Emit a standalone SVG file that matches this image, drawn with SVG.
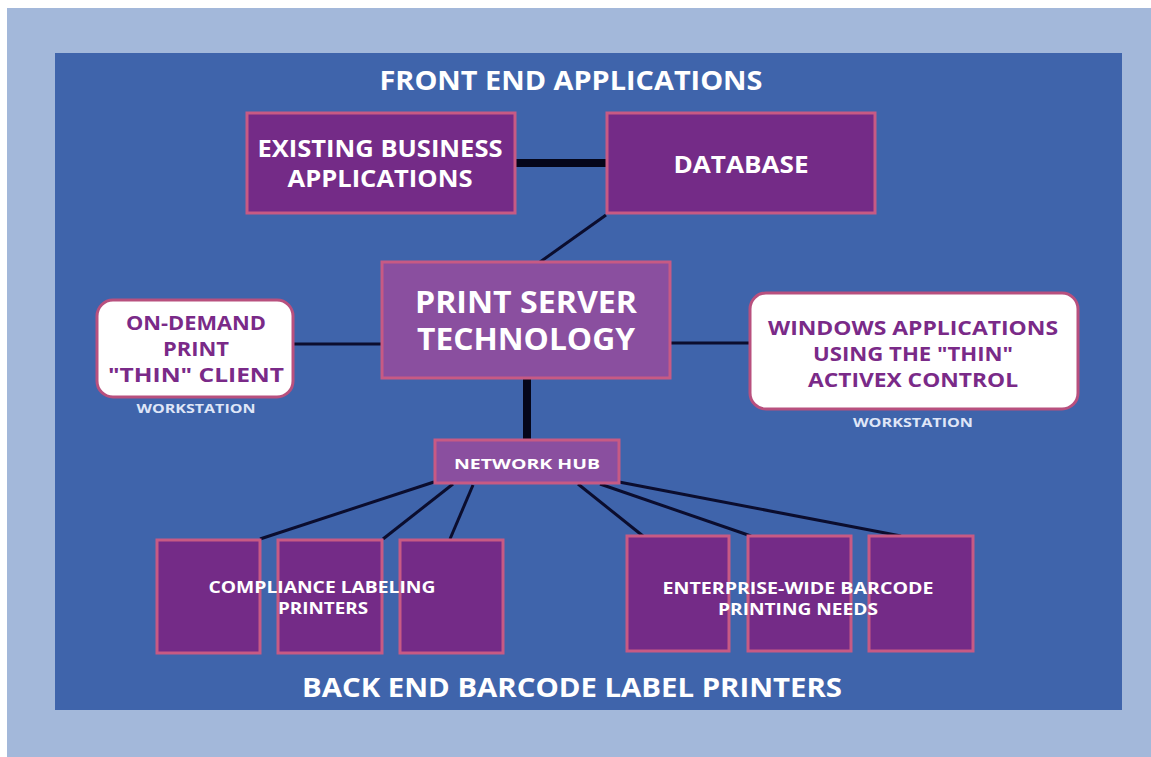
<svg xmlns="http://www.w3.org/2000/svg" width="1151" height="757" viewBox="0 0 1151 757">
<style>
text{font-family:"Open Sans","DejaVu Sans",sans-serif;font-weight:700;text-anchor:middle}
.w{fill:#ffffff}
.p{fill:#7a2a88}
.ws{fill:#dfe6f7;font-size:13px}
.box{fill:#742b87;stroke:#c75a84;stroke-width:3}
.box2{fill:#8a4f9f;stroke:#c75a84;stroke-width:3}
.rbox{fill:#ffffff;stroke:#b8507e;stroke-width:3}
.thin{stroke:#0b0d2e;stroke-width:3;fill:none}
.thick{stroke:#05061a;stroke-width:8;fill:none}
</style>
<rect x="0" y="0" width="1151" height="757" fill="#ffffff"/>
<rect x="7" y="8" width="1144" height="749" fill="#a3b8da"/>
<rect x="55" y="53" width="1067" height="657" fill="#3f64ab"/>
<text class="w" x="571" y="90" font-size="27" textLength="383" lengthAdjust="spacingAndGlyphs">FRONT END APPLICATIONS</text>
<text class="w" x="572" y="697" font-size="27" textLength="540" lengthAdjust="spacingAndGlyphs">BACK END BARCODE LABEL PRINTERS</text>
<g id="connectors">
<line class="thick" x1="515" y1="163" x2="607" y2="163"/>
<line class="thin" x1="606" y1="215" x2="540" y2="262"/>
<line class="thin" x1="293" y1="344" x2="382" y2="344"/>
<line class="thin" x1="670" y1="343" x2="750" y2="343"/>
<line class="thick" x1="527" y1="378" x2="527" y2="440"/>
<line class="thin" x1="434" y1="482" x2="260" y2="539"/>
<line class="thin" x1="453" y1="484" x2="383" y2="539"/>
<line class="thin" x1="473" y1="485" x2="450" y2="539"/>
<line class="thin" x1="578" y1="484" x2="643" y2="536"/>
<line class="thin" x1="600" y1="484" x2="751" y2="536"/>
<line class="thin" x1="619" y1="482" x2="901" y2="536"/>
</g>
<g id="existing">
<rect class="box" x="247" y="113" width="268" height="100"/>
<text class="w" x="380" y="157" font-size="23" textLength="245" lengthAdjust="spacingAndGlyphs">EXISTING BUSINESS</text>
<text class="w" x="380" y="187" font-size="23" textLength="185" lengthAdjust="spacingAndGlyphs">APPLICATIONS</text>
</g>
<g id="database">
<rect class="box" x="607" y="113" width="268" height="100"/>
<text class="w" x="741" y="173" font-size="24" textLength="135" lengthAdjust="spacingAndGlyphs">DATABASE</text>
</g>
<g id="printserver">
<rect class="box2" x="382" y="262" width="288" height="116"/>
<text class="w" x="526" y="313" font-size="30" textLength="222" lengthAdjust="spacingAndGlyphs">PRINT SERVER</text>
<text class="w" x="526" y="350" font-size="30" textLength="218" lengthAdjust="spacingAndGlyphs">TECHNOLOGY</text>
</g>
<g id="ondemand">
<rect class="rbox" x="97" y="300" width="196" height="97" rx="16"/>
<text class="p" x="196" y="330" font-size="20" textLength="140" lengthAdjust="spacingAndGlyphs">ON-DEMAND</text>
<text class="p" x="196" y="356" font-size="20" textLength="66" lengthAdjust="spacingAndGlyphs">PRINT</text>
<text class="p" x="196" y="382" font-size="20" textLength="176" lengthAdjust="spacingAndGlyphs">"THIN" CLIENT</text>
<text class="ws" x="196" y="413" textLength="119" lengthAdjust="spacingAndGlyphs">WORKSTATION</text>
</g>
<g id="windows">
<rect class="rbox" x="750" y="293" width="328" height="116" rx="16"/>
<text class="p" x="913" y="335" font-size="20" textLength="290" lengthAdjust="spacingAndGlyphs">WINDOWS APPLICATIONS</text>
<text class="p" x="913" y="361" font-size="20" textLength="200" lengthAdjust="spacingAndGlyphs">USING THE "THIN"</text>
<text class="p" x="913" y="387" font-size="20" textLength="210" lengthAdjust="spacingAndGlyphs">ACTIVEX CONTROL</text>
<text class="ws" x="913" y="427" textLength="120" lengthAdjust="spacingAndGlyphs">WORKSTATION</text>
</g>
<g id="hub">
<rect class="box2" x="435" y="440" width="184" height="43"/>
<text class="w" x="527" y="469" font-size="15" textLength="146" lengthAdjust="spacingAndGlyphs">NETWORK HUB</text>
</g>
<g id="compliance">
<rect class="box" x="157" y="540" width="103" height="113"/>
<rect class="box" x="278" y="540" width="104" height="113"/>
<rect class="box" x="400" y="540" width="103" height="113"/>
<text class="w" x="322" y="593" font-size="16" textLength="227" lengthAdjust="spacingAndGlyphs">COMPLIANCE LABELING</text>
<text class="w" x="323" y="614" font-size="16" textLength="90" lengthAdjust="spacingAndGlyphs">PRINTERS</text>
</g>
<g id="enterprise">
<rect class="box" x="627" y="536" width="102" height="115"/>
<rect class="box" x="748" y="536" width="103" height="115"/>
<rect class="box" x="869" y="536" width="104" height="115"/>
<text class="w" x="798" y="594" font-size="16" textLength="271" lengthAdjust="spacingAndGlyphs">ENTERPRISE-WIDE BARCODE</text>
<text class="w" x="798" y="615" font-size="16" textLength="160" lengthAdjust="spacingAndGlyphs">PRINTING NEEDS</text>
</g>
</svg>
